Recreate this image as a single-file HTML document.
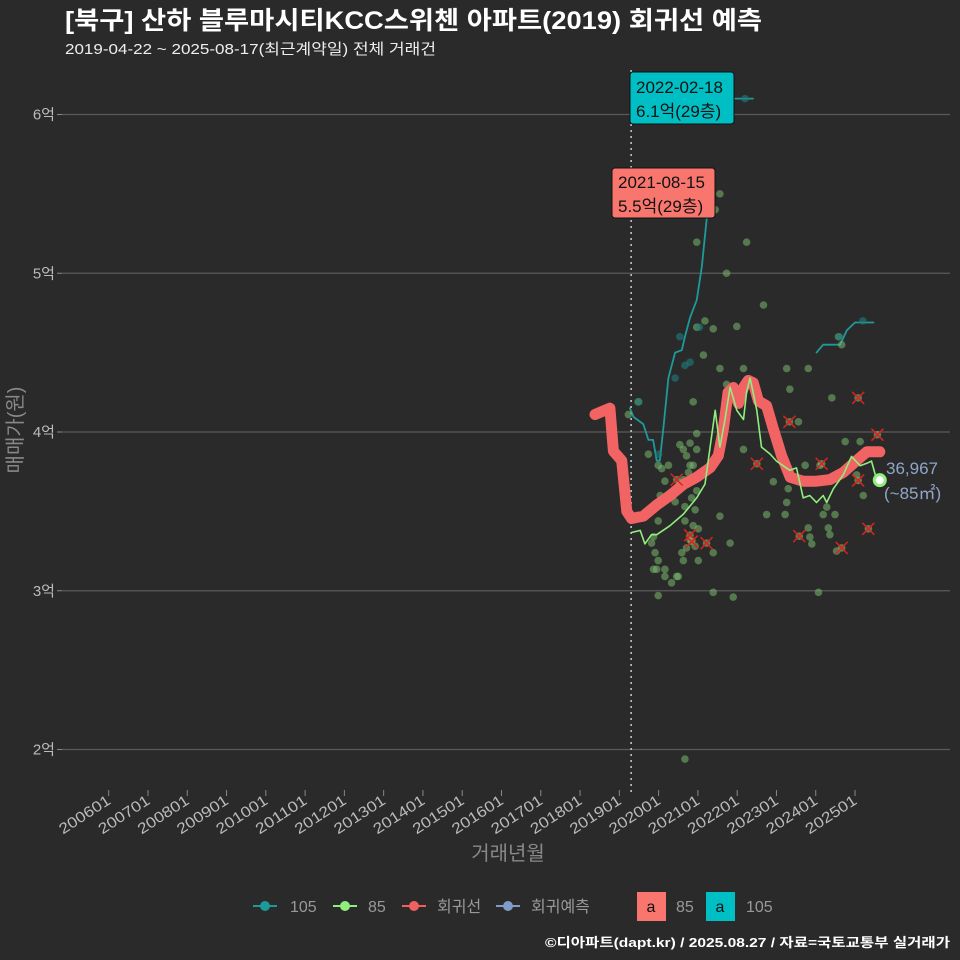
<!DOCTYPE html>
<html><head><meta charset="utf-8"><style>
html,body{margin:0;background:#2a2a2a;width:960px;height:960px;overflow:hidden;position:relative;}
svg text{font-family:"Liberation Sans","Noto Sans CJK KR",sans-serif;}
</style></head><body>
<svg id="c" width="960" height="960" style="position:absolute;left:0;top:0" xmlns="http://www.w3.org/2000/svg">
<rect width="960" height="960" fill="#2a2a2a"/>
<text x="65" y="29" fill="#ffffff" font-size="25" font-weight="bold" textLength="697" lengthAdjust="spacingAndGlyphs">[북구] 산하 블루마시티KCC스위첸 아파트(2019) 회귀선 예측</text>
<text x="65" y="54" fill="#eeeeee" font-size="15" textLength="371" lengthAdjust="spacingAndGlyphs">2019-04-22 ~ 2025-08-17(최근계약일) 전체 거래건</text>
<g id="grid"></g><g id="axes"></g><g id="marks"></g>
<text transform="translate(22,430) rotate(-90)" text-anchor="middle" fill="#888" font-size="20">매매가(원)</text>
<text x="508" y="860" text-anchor="middle" fill="#888" font-size="20">거래년월</text>
<g font-size="16" fill="#999">
<g><line x1="253" y1="906" x2="277" y2="906" stroke="#1f9a9a" stroke-width="2"/><circle cx="265" cy="906" r="5" fill="#1f9a9a"/><text x="290" y="912">105</text></g>
<g><line x1="333" y1="906" x2="357" y2="906" stroke="#90ee7e" stroke-width="2"/><circle cx="345" cy="906" r="5" fill="#90ee7e"/><text x="368" y="912">85</text></g>
<g><line x1="402" y1="906" x2="426" y2="906" stroke="#f06060" stroke-width="2"/><circle cx="414" cy="906" r="5" fill="#f06060"/><text x="437" y="912">회귀선</text></g>
<g><line x1="496" y1="906" x2="520" y2="906" stroke="#7f9cc8" stroke-width="2"/><circle cx="508" cy="906" r="5" fill="#7f9cc8"/><text x="531" y="912">회귀예측</text></g>
<g><rect x="637" y="892" width="29" height="29" fill="#f8766d"/><text x="651" y="912" text-anchor="middle" fill="#111">a</text><text x="676" y="912">85</text></g>
<g><rect x="706" y="892" width="29" height="29" fill="#00bfc4"/><text x="720" y="912" text-anchor="middle" fill="#111">a</text><text x="746" y="912">105</text></g>
</g>
<text x="950" y="947" text-anchor="end" fill="#ffffff" font-size="13" font-weight="bold" textLength="405" lengthAdjust="spacingAndGlyphs">©디아파트(dapt.kr) / 2025.08.27 / 자료=국토교통부 실거래가</text>
</svg>
<script>
const yTicks=[2,3,4,5,6];
const xTickYears=[2006,2007,2008,2009,2010,2011,2012,2013,2014,2015,2016,2017,2018,2019,2020,2021,2022,2023,2024,2025];
const regT=[2018.38,2018.76,2018.85,2019.06,2019.19,2019.31,2019.61,2019.95,2020.29,2020.63,2020.97,2021.31,2021.52,2021.65,2021.77,2021.90,2022.03,2022.16,2022.28,2022.41,2022.54,2022.75,2022.92,2023.13,2023.35,2023.68,2024.02,2024.36,2024.70,2025.04,2025.30,2025.63];
const regV=[4.11,4.15,3.88,3.82,3.50,3.455,3.47,3.54,3.60,3.67,3.715,3.775,3.85,4.02,4.25,4.28,4.18,4.28,4.325,4.31,4.195,4.165,4.02,3.85,3.715,3.69,3.69,3.70,3.745,3.82,3.875,3.875];
const g85T=[2019.31,2019.53,2019.65,2019.82,2019.95,2020.29,2020.63,2020.97,2021.18,2021.31,2021.44,2021.56,2021.69,2021.82,2021.99,2022.16,2022.24,2022.33,2022.50,2022.62,2022.84,2023.00,2023.17,2023.34,2023.51,2023.68,2023.85,2024.02,2024.19,2024.28,2024.45,2024.70,2024.91,2025.13,2025.30,2025.42,2025.55];
const g85V=[3.367,3.38,3.295,3.353,3.353,3.41,3.483,3.585,3.672,3.905,4.137,3.905,4.079,4.282,4.137,4.079,4.253,4.34,4.137,3.905,3.861,3.817,3.788,3.759,3.774,3.585,3.60,3.556,3.60,3.556,3.643,3.73,3.846,3.788,3.803,3.817,3.70];
const t105aT=[2019.27,2019.36,2019.61,2019.74,2019.86,2019.95,2020.03,2020.12,2020.25,2020.42,2020.59,2020.67,2020.80,2020.97,2021.10,2021.22,2021.31,2021.40];
const t105aV=[4.15,4.095,4.05,3.95,3.95,3.82,3.82,4.02,4.34,4.50,4.515,4.60,4.72,4.83,5.04,5.33,5.50,5.65];
const t105bT=[2021.95,2022.40];
const t105bV=[6.1,6.1];
const t105cT=[2024.02,2024.19,2024.62,2024.79,2025.0,2025.47];
const t105cV=[4.5,4.55,4.55,4.64,4.69,4.69];
const dotT=[2019.23,2019.48,2019.74,2019.99,2020.08,2020.25,2020.16,2020.04,2019.99,2019.87,2019.82,2019.91,2019.99,2019.87,2019.95,2020.16,2020.16,2020.33,2020.46,2020.50,2019.99,2020.37,2020.50,2020.42,2020.54,2020.63,2020.71,2020.80,2020.97,2020.80,2020.88,2020.76,2020.63,2020.97,2020.97,2020.84,2020.67,2020.93,2020.67,2020.88,2021.01,2020.80,2020.93,2020.71,2020.59,2020.63,2021.01,2021.39,2021.56,2021.82,2021.39,2021.90,2020.67,2020.88,2020.97,2021.14,2020.97,2021.18,2021.39,2021.56,2021.44,2020.97,2021.73,2022.24,2021.99,2021.56,2021.73,2022.16,2022.16,2022.67,2022.92,2022.75,2023.26,2023.34,2023.26,2023.22,2023.30,2023.43,2023.56,2023.73,2023.81,2023.81,2023.85,2023.90,2024.11,2024.19,2024.28,2024.32,2024.49,2024.36,2024.41,2024.53,2024.75,2025.13,2025.17,2025.21,2024.07,2024.58,2024.66,2025.04];
const dotV=[4.11,4.19,3.86,3.79,3.77,3.79,3.69,3.60,3.44,3.34,3.30,3.24,3.19,3.135,3.135,3.135,3.09,3.05,3.09,3.09,2.97,3.60,3.64,3.56,3.92,3.89,3.85,3.93,3.89,3.79,3.79,3.745,3.70,3.715,3.63,3.585,3.53,3.51,3.44,3.41,3.39,3.32,3.28,3.27,3.24,3.19,3.19,3.24,3.47,3.30,2.99,2.96,1.94,4.19,3.99,4.485,4.66,4.70,4.65,5.50,5.40,5.196,5.00,5.196,4.665,4.40,4.30,4.40,3.89,4.80,3.687,3.48,4.40,4.27,3.556,3.48,3.643,3.716,4.064,3.79,4.40,3.396,3.338,3.295,3.79,3.48,3.527,3.396,3.48,3.353,4.215,3.25,3.94,3.94,3.86,3.60,2.99,4.60,4.55,3.73];
const tdotT=[2021.04,2020.54,2020.67,2020.80,2020.42,2022.2,2024.6,2025.2,2019.5,2020.0];
const tdotV=[4.66,4.60,4.42,4.44,4.34,6.1,4.60,4.70,4.19,3.86];
const xmT=[2020.46,2020.80,2020.84,2021.22,2022.50,2023.33,2023.58,2024.15,2024.66,2025.08,2025.08,2025.34,2025.57];
const xmV=[3.70,3.35,3.31,3.30,3.80,4.064,3.344,3.80,3.27,4.215,3.695,3.39,3.983];
const lastT=2025.63, lastV=3.6967;

const NS="http://www.w3.org/2000/svg";
const X=t=>108.7+(t-2006)*39.28;
const Y=v=>432-(v-4)*158.75;
function mk(tag,attrs,parent){const e=document.createElementNS(NS,tag);for(const k in attrs)e.setAttribute(k,attrs[k]);parent.appendChild(e);return e;}
const grid=document.getElementById('grid'),axes=document.getElementById('axes'),marks=document.getElementById('marks');
yTicks.forEach(v=>{
 const l=mk('line',{x1:62,x2:950,y1:Y(v),y2:Y(v),stroke:'#5a5a5a','stroke-width':1.2},grid);
 
 
 const tk=mk('line',{x1:57,x2:62,y1:Y(v),y2:Y(v),stroke:'#888'},axes);
 
 
 const t=mk('text',{x:55,y:Y(v)+5,'text-anchor':'end',fill:'#bbb','font-size':15},axes);
 t.textContent=v+'억';
 
 
});
xTickYears.forEach(y=>{
 const x=X(y);
 const tk=mk('line',{x1:x,x2:x,y1:790,y2:796,stroke:'#888'},axes);
 
 
 const t=mk('text',{transform:`translate(${x+3},803) rotate(-33)`,'text-anchor':'end',fill:'#bbb','font-size':15,textLength:58,lengthAdjust:'spacingAndGlyphs'},axes);
 t.textContent=y+'01';
 
 
});
const vl=mk('line',{x1:X(2019.3),x2:X(2019.3),y1:70,y2:792,stroke:'#ccc','stroke-width':1.5,'stroke-dasharray':'2,4'},marks);


function path(T,V,stroke,w,name){
 const d=T.map((t,i)=>(i?'L':'M')+X(t).toFixed(1)+','+Y(V[i]).toFixed(1)).join(' ');
 const p=mk('path',{d:d,fill:'none',stroke:stroke,'stroke-width':w,'stroke-linejoin':'round','stroke-linecap':'round'},marks);
 
 
}
path(t105aT,t105aV,'#1f9a9a',1.8,'line-105');
path(t105bT,t105bV,'#1f9a9a',1.8,'line-105-peak');
path(t105cT,t105cV,'#1f9a9a',1.8,'line-105-recent');
dotT.forEach((t,i)=>{
 const c=mk('circle',{cx:X(t),cy:Y(dotV[i]),r:3.8,fill:'#78b86e','fill-opacity':0.55},marks);
 
 
});
tdotT.forEach((t,i)=>{
 const c=mk('circle',{cx:X(t),cy:Y(tdotV[i]),r:3.8,fill:'#1f7f7f','fill-opacity':0.6},marks);
 
 
});
path(regT,regV,'#f26464',11,'regression-line');
path(g85T,g85V,'#90ee7e',1.6,'line-85');
xmT.forEach((t,i)=>{
 const x=X(t),y=Y(xmV[i]);
 const c=mk('circle',{cx:x,cy:y,r:3.8,fill:'#78b86e','fill-opacity':0.6},marks);
 
 
 const p=mk('path',{d:`M${x-6},${y-6}L${x+6},${y+6}M${x+6},${y-6}L${x-6},${y+6}`,stroke:'#e02020','stroke-width':1.5},marks);
 
 
});
const lp=mk('circle',{cx:X(lastT),cy:Y(lastV),r:5.5,fill:'#ffffff',stroke:'#90ee7e','stroke-width':3},marks);


</script>
<svg width="960" height="960" style="position:absolute;left:0;top:0" xmlns="http://www.w3.org/2000/svg">
<text x="886" y="474" fill="#8fa6c8" font-size="17" font-family="Liberation Sans, sans-serif">36,967</text>
<text x="884" y="499" fill="#8fa6c8" font-size="17" font-family="Liberation Sans, Noto Sans CJK KR, sans-serif">(~85㎡)</text>
<g>
<rect x="630" y="72" width="104" height="52" rx="3" fill="#00bfc4" stroke="#111"/>
<text x="636" y="93" font-size="17" fill="#111" font-family="Liberation Sans, sans-serif">2022-02-18</text>
<text x="636" y="117" font-size="17" fill="#111" font-family="Liberation Sans, Noto Sans CJK KR, sans-serif">6.1억(29층)</text>
</g>
<g>
<rect x="612" y="168" width="103" height="50" rx="3" fill="#f8766d" stroke="#111"/>
<text x="618" y="188" font-size="17" fill="#111" font-family="Liberation Sans, sans-serif">2021-08-15</text>
<text x="618" y="212" font-size="17" fill="#111" font-family="Liberation Sans, Noto Sans CJK KR, sans-serif">5.5억(29층)</text>
</g>
</svg>
</body></html>
